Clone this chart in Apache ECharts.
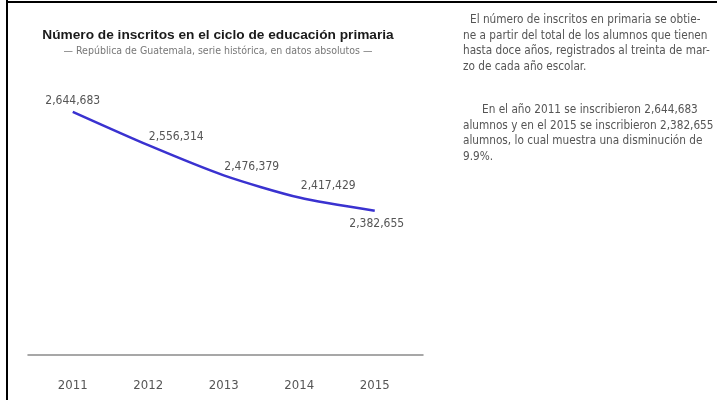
<!DOCTYPE html>
<html>
<head>
<meta charset="utf-8">
<script src="https://cdn.jsdelivr.net/npm/echarts@6/dist/echarts.min.js"></script>
<style>
  html, body { margin: 0; padding: 0; background: #ffffff; }
  #chart { width: 717px; height: 400px; }
</style>
</head>
<body>
<div id="chart"></div>
<script>
// datos
const years = ['2011', '2012', '2013', '2014', '2015']
const inscritos = [2644683, 2556314, 2476379, 2417429, 2382655]

// posición de cada etiqueta (arriba, arriba-derecha, abajo)
const labelPlacement = [
  { position: 'top', offset: [0, 1] },
  { position: 'top', offset: [28, 3] },
  { position: 'top', offset: [28, 3] },
  { position: 'top', offset: [29, 0] },
  { position: 'bottom', offset: [2, 2] }
]

const textLines1 = [
  'El número de inscritos en primaria se obtie-',
  'ne a partir del total de los alumnos que tienen',
  'hasta doce años, registrados al treinta de mar-',
  'zo de cada año escolar.'
]
const textLines2 = [
  'En el año 2011 se inscribieron 2,644,683',
  'alumnos y en el 2015 se inscribieron 2,382,655',
  'alumnos, lo cual muestra una disminución de',
  '9.9%.'
]

const narrow = '"DejaVu Sans Condensed", "Liberation Sans Narrow", sans-serif'
const fmt = v => v.toLocaleString('en-US')

const chart = echarts.init(document.getElementById('chart'))

// texto lateral
const sideText = []
textLines1.forEach((t, i) => {
  sideText.push({
    type: 'text', left: i === 0 ? 470 : 463, top: 14 + i * 15.5,
    style: { text: t, font: '11.7px ' + narrow, fill: '#555' }
  })
})
textLines2.forEach((t, i) => {
  sideText.push({
    type: 'text', left: i === 0 ? 482 : 463, top: 104 + i * 15.5,
    style: { text: t, font: '11.7px ' + narrow, fill: '#555' }
  })
})

chart.setOption({
  backgroundColor: '#ffffff',
  animation: false,
  title: {
    text: 'Número de inscritos en el ciclo de educación primaria',
    subtext: '— República de Guatemala, serie histórica, en datos absolutos —',
    left: 213,
    textAlign: 'center',
    top: 23,
    itemGap: 4,
    textStyle: {
      fontFamily: '"Liberation Sans", sans-serif',
      fontWeight: 'bold',
      fontSize: 13.7,
      color: '#1a1a1a'
    },
    subtextStyle: {
      fontFamily: narrow,
      fontSize: 10.5,
      color: '#777'
    }
  },
  grid: [
    { left: 35, top: 91, width: 377.5, height: 264 },
    { left: 28, top: 91, width: 395, height: 264 }
  ],
  xAxis: [
    {
      type: 'category',
      gridIndex: 0,
      data: years,
      boundaryGap: true,
      axisLine: { show: false },
      axisTick: { show: false },
      axisLabel: {
        margin: 24,
        fontFamily: narrow,
        fontSize: 13,
        color: '#555'
      }
    },
    {
      // solo la línea base
      type: 'value',
      gridIndex: 1,
      min: 0,
      max: 1,
      axisLine: { show: true, lineStyle: { color: '#8a8a8a', width: 1.5 } },
      axisTick: { show: false },
      axisLabel: { show: false },
      splitLine: { show: false }
    }
  ],
  yAxis: [
    {
      type: 'value',
      gridIndex: 0,
      min: 2000000,
      max: 2700000,
      show: false,
      splitLine: { show: false }
    },
    { type: 'value', gridIndex: 1, show: false, splitLine: { show: false } }
  ],
  graphic: [
    {
      type: 'line',
      shape: { x1: 7, y1: 0, x2: 7, y2: 400 },
      style: { stroke: '#000', lineWidth: 2 }
    },
    {
      type: 'line',
      shape: { x1: 6, y1: 2, x2: 717, y2: 2 },
      style: { stroke: '#000', lineWidth: 2 }
    }
  ].concat(sideText),
  series: [
    {
      type: 'line',
      xAxisIndex: 0,
      yAxisIndex: 0,
      smooth: 0.25,
      symbol: 'circle',
      symbolSize: 1,
      showSymbol: true,
      itemStyle: { color: 'rgba(0,0,0,0)' },
      lineStyle: { color: '#3a32d0', width: 2.5 },
      data: inscritos.map((v, i) => ({
        value: v,
        label: Object.assign({
          show: true,
          formatter: p => fmt(p.value),
          fontFamily: narrow,
          fontSize: 12,
          color: '#555'
        }, labelPlacement[i])
      }))
    }
  ]
})
</script>
</body>
</html>
